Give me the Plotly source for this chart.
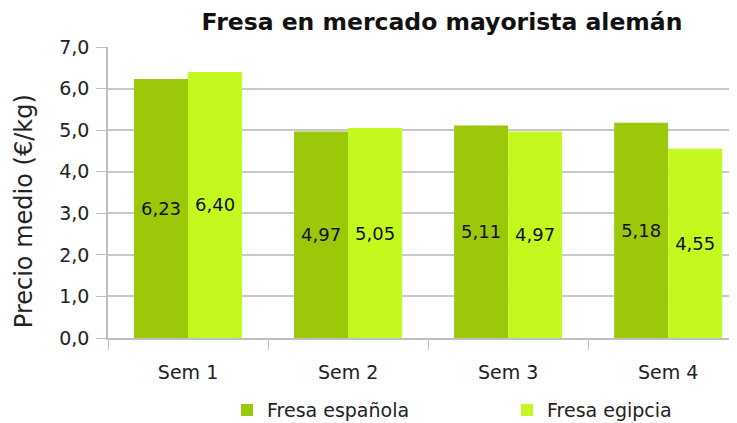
import plotly.graph_objects as go

weeks = ["Sem 1", "Sem 2", "Sem 3", "Sem 4"]
espanola = [6.23, 4.97, 5.11, 5.18]
egipcia = [6.40, 5.05, 4.97, 4.55]
y_ticks = [0, 1, 2, 3, 4, 5, 6, 7]

FONT = "'DejaVu Sans', sans-serif"
W, H = 729, 415  # page body adds an 8px offset

fig = go.Figure()
fig.add_trace(go.Bar(
    x=weeks, y=espanola, name="Fresa española", legend="legend",
    marker=dict(color="#9BC809", line=dict(width=0)),
    text=[f"{v:.2f}".replace(".", ",") for v in espanola],
    textposition="inside", insidetextanchor="middle",
    textfont=dict(size=18, color="#111111", family=FONT),
))
fig.add_trace(go.Bar(
    x=weeks, y=egipcia, name="Fresa egipcia", legend="legend2",
    marker=dict(color="#C4F91F", line=dict(width=0)),
    text=[f"{v:.2f}".replace(".", ",") for v in egipcia],
    textposition="inside", insidetextanchor="middle",
    textfont=dict(size=18, color="#111111", family=FONT),
))

leg_common = dict(orientation="h", xref="container", yref="container",
                  xanchor="left", yanchor="middle", y=0.031,
                  font=dict(size=19, color="#222222"), itemwidth=30,
                  bgcolor="rgba(0,0,0,0)")

fig.update_layout(
    width=W, height=H,
    margin=dict(l=100, r=0, t=39, b=85),
    paper_bgcolor="white", plot_bgcolor="white",
    separators=",.",
    barmode="group", bargap=0.325, bargroupgap=0,
    font=dict(family=FONT, size=18, color="#222222"),
    title=dict(text="<b>Fresa en mercado mayorista alemán</b>",
               x=434 / W, xanchor="center", y=1 - 14 / H, yanchor="middle",
               font=dict(size=23.5, color="#111111", family=FONT)),
    showlegend=True,
    legend=dict(x=219 / W, **leg_common),
    legend2=dict(x=499 / W, **leg_common),
    uniformtext=dict(mode=False),
    annotations=[dict(text="Precio medio (€/kg)", textangle=-90,
                      xref="paper", yref="paper", x=-0.1335, y=0.436,
                      xanchor="center", yanchor="middle", showarrow=False,
                      font=dict(size=24, color="#222222", family=FONT))],
)
fig.update_xaxes(
    range=[-0.5, 3.43], showline=True, linecolor="#BFBFBF", linewidth=1.5,
    ticks="outside", tickson="boundaries", ticklen=10, tickcolor="#BFBFBF",
    tickfont=dict(size=19, color="#222222"), showgrid=False, automargin=False,
    ticklabelstandoff=16,
)
fig.update_yaxes(
    range=[0, 7], tickvals=y_ticks, tickformat=".1f",
    showline=True, linecolor="#BFBFBF", linewidth=1.5,
    ticks="outside", ticklen=10, tickcolor="#BFBFBF",
    showgrid=True, gridcolor="#C8C8C8", gridwidth=1.5,
    tickfont=dict(size=19, color="#222222"), automargin=False,
    ticklabelstandoff=3,
)

fig.write_html("out.html")
